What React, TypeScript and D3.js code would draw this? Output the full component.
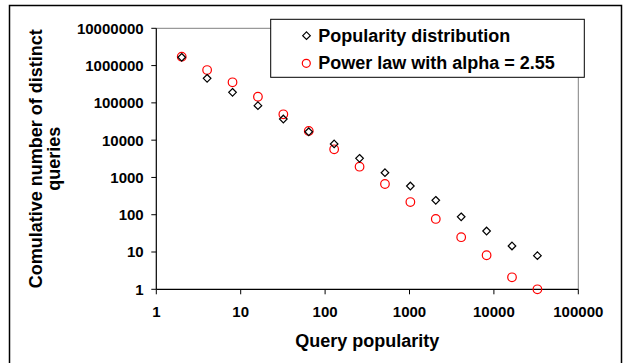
import React from "react";
import * as d3 from "d3";

const popularity: number[] = [2, 4, 8, 16, 32, 64, 128, 256, 512, 1024, 2048, 4096, 8192, 16384, 32768];
const observed: number[] = [1670000, 455000, 192000, 84000, 36900, 16800, 7900, 3260, 1340, 589, 244, 88, 36.6, 14.5, 8];
const powerLaw: number[] = [1730000, 760000, 356000, 146000, 49300, 17600, 5680, 1940, 667, 219, 77, 25, 8.2, 2.1, 1.0];
const xTicks: number[] = [1, 10, 100, 1000, 10000, 100000];
const yTicks: number[] = [1, 10, 100, 1000, 10000, 100000, 1000000, 10000000];
const seriesNames: string[] = ["Popularity distribution", "Power law with alpha = 2.55"];

const W = 626;
const H = 363;
const left = 156.3, right = 578.3, top = 28.3, bottom = 289.3;
const font = "'Liberation Sans', Arial, sans-serif";

export default function App() {
  const x = d3.scaleLog().domain([1, 100000]).range([left, right]);
  const y = d3.scaleLog().domain([1, 10000000]).range([bottom, top]);
  const dia = (cx: number, cy: number, r: number) =>
    `M${cx},${cy - r}L${cx + r},${cy}L${cx},${cy + r}L${cx - r},${cy}Z`;
  const cy = (top + bottom) / 2;
  return (
    <svg width={W} height={H} style={{ position: "absolute", left: 0, top: 0 }} fontFamily={font}>
      <rect x={0} y={0} width={W} height={H} fill="#fff" />
      <path d={`M9.5,${H + 2}V5.5H621.5V${H + 2}`} fill="none" stroke="#000" strokeWidth={1.5} />
      {/* plot area border (gray top/right) */}
      <path d={`M${left},${top}H${right}V${bottom}`} fill="none" stroke="#808080" strokeWidth={1} />
      {/* axes */}
      <line x1={left} x2={left} y1={top} y2={bottom} stroke="#000" strokeWidth={1.2} />
      <line x1={left} x2={right} y1={bottom} y2={bottom} stroke="#000" strokeWidth={1.2} />
      {yTicks.map((t) => (
        <g key={"y" + t}>
          <line x1={left - 5} x2={left} y1={y(t)} y2={y(t)} stroke="#000" />
          <text x={143.7} y={y(t)} dy="0.36em" textAnchor="end" fontSize={15} fontWeight="bold">
            {d3.format("d")(t)}
          </text>
        </g>
      ))}
      {xTicks.map((t) => (
        <g key={"x" + t}>
          <line x1={x(t)} x2={x(t)} y1={bottom} y2={bottom + 5} stroke="#000" />
          <text x={x(t)} y={bottom + 27.4} textAnchor="middle" fontSize={15} fontWeight="bold">
            {d3.format("d")(t)}
          </text>
        </g>
      ))}
      {/* data */}
      {popularity.map((p, i) => (
        <circle key={"c" + i} cx={x(p)} cy={y(powerLaw[i])} r={4.3} fill="none" stroke="#ff0000" strokeWidth={1.2} />
      ))}
      {popularity.map((p, i) => (
        <path key={"d" + i} d={dia(x(p), y(observed[i]), 3.8)} fill="none" stroke="#000" strokeWidth={1.2} />
      ))}
      {/* axis titles */}
      <text x={(left + right) / 2} y={347} textAnchor="middle" fontSize={18} fontWeight="bold">
        Query popularity
      </text>
      <text transform={`translate(41.5,${cy}) rotate(-90)`} textAnchor="middle" fontSize={18} fontWeight="bold">
        Comulative number of distinct
      </text>
      <text transform={`translate(60,${cy}) rotate(-90)`} textAnchor="middle" fontSize={18} fontWeight="bold">
        queries
      </text>
      {/* legend */}
      <rect x={270.7} y={19.3} width={313.6} height={58} fill="#fff" stroke="#000" strokeWidth={1} />
      <path d={dia(306.5, 35.7, 3.8)} fill="none" stroke="#000" strokeWidth={1.2} />
      <text x={318.3} y={41.5} fontSize={18} fontWeight="bold">{seriesNames[0]}</text>
      <circle cx={306.3} cy={63.3} r={4} fill="none" stroke="#ff0000" strokeWidth={1.2} />
      <text x={318.3} y={69.3} fontSize={18} fontWeight="bold">{seriesNames[1]}</text>
    </svg>
  );
}
